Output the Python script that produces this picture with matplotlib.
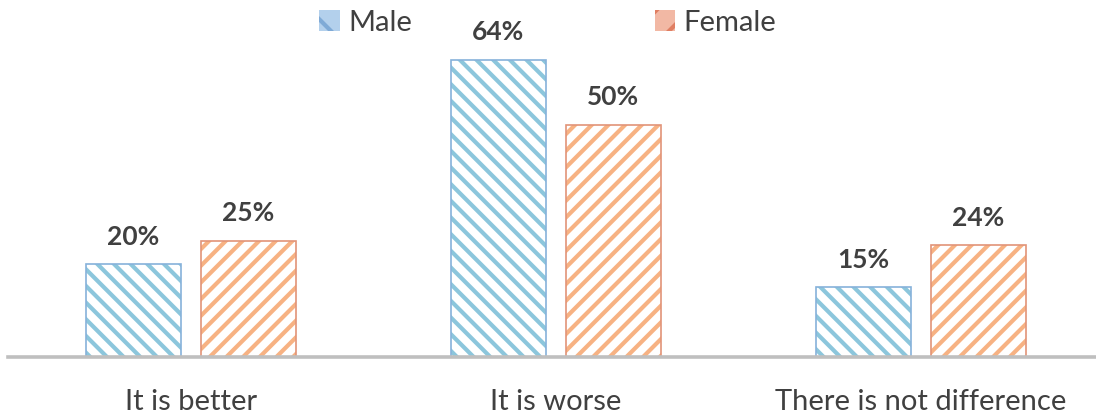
import numpy as np
import matplotlib.pyplot as plt
from matplotlib.patches import Patch

categories = ['It is better', 'It is worse', 'There is not difference']
male = [20, 64, 15]
female = [25, 50, 24]
series_names = ['Male', 'Female']

plt.rcParams['font.family'] = ['Lato', 'DejaVu Sans']
plt.rcParams['hatch.linewidth'] = 3.0

male_hatch, male_edge = '#8CC6DC', '#86B2DA'
female_hatch, female_edge = '#F7B283', '#E29478'
text_col = '#404040'

fig = plt.figure(figsize=(10.96, 4.16), dpi=100)
ax = fig.add_axes([8 / 1096, 59 / 416, 1088 / 1096, 357 / 416])

x = np.arange(len(categories))
w = 0.26
off = 0.1575

# hatched fills, then outlines on top
ax.bar(x - off, male, w, color='white', edgecolor=male_hatch, hatch='\\\\', linewidth=0)
ax.bar(x + off, female, w, color='white', edgecolor=female_hatch, hatch='//', linewidth=0)
ax.bar(x - off, male, w, fill=False, edgecolor=male_edge, linewidth=1.2)
ax.bar(x + off, female, w, fill=False, edgecolor=female_edge, linewidth=1.2)

for xi, v in zip(x - off, male):
    ax.text(xi, v + 5.9, f'{v}%', ha='center', va='center', fontsize=19,
            fontweight='bold', color=text_col)
for xi, v in zip(x + off, female):
    ax.text(xi, v + 5.9, f'{v}%', ha='center', va='center', fontsize=19,
            fontweight='bold', color=text_col)

ax.set_xlim(-0.501, 2.48)
ax.set_ylim(0, 76.8)
for s in ['top', 'right', 'left']:
    ax.spines[s].set_visible(False)
ax.spines['bottom'].set_color('#BFBFBF')
ax.spines['bottom'].set_linewidth(2.6)
ax.set_yticks([])
ax.set_xticks(x)
ax.set_xticklabels(categories, fontsize=21, color=text_col)
ax.tick_params(axis='x', length=0, pad=23)

handles = [Patch(facecolor='#B3D0EC', edgecolor='#7FAAD6', hatch='\\', linewidth=0),
           Patch(facecolor='#F2B8A4', edgecolor='#E07E62', hatch='/', linewidth=0)]
fig.legend(handles, series_names, loc='upper center', bbox_to_anchor=(0.5, 1.04),
           ncol=2, frameon=False, fontsize=21, labelcolor=text_col,
           handlelength=0.7, handleheight=0.7, handletextpad=0.3, columnspacing=8.3)

fig.savefig('out.png', dpi=100)
